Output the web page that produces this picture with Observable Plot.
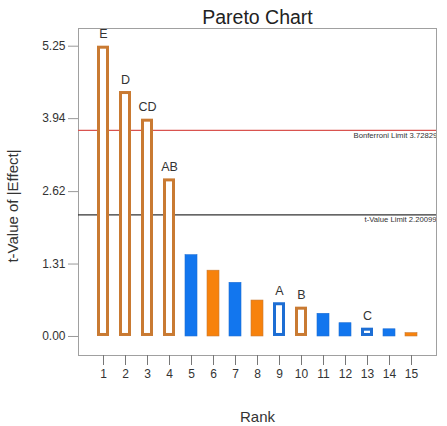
<!DOCTYPE html>
<html>
<head>
<meta charset="utf-8">
<script src="https://cdn.jsdelivr.net/npm/d3@7"></script>
<script src="https://cdn.jsdelivr.net/npm/@observablehq/plot@0.6"></script>
<style>
  html, body { margin: 0; padding: 0; background: #fff; }
  #chart svg { display: block; }
</style>
</head>
<body>
<div id="chart"></div>
<script>
// Pareto chart of standardized effects, ranked by |t|
const ranks = [1, 2, 3, 4, 5, 6, 7, 8, 9, 10, 11, 12, 13, 14, 15];
const terms = ["E", "D", "CD", "AB", "", "", "", "", "A", "B", "", "", "C", "", ""];
const tValues = [5.25, 4.43, 3.93, 2.85, 1.47, 1.19, 0.97, 0.65, 0.61, 0.53, 0.41, 0.24, 0.15, 0.13, 0.06];
// effect sign: orange = positive, blue = negative
const signs = ["+", "+", "+", "+", "-", "+", "-", "+", "-", "+", "-", "-", "-", "-", "+"];
const yTicks = [0.00, 1.31, 2.62, 3.94, 5.25];
const bonferroniLimit = 3.72829;
const tValueLimit = 2.20099;

const rows = ranks.map((r, i) => ({
  rank: r, term: terms[i], t: tValues[i], sign: signs[i], inModel: terms[i] !== ""
}));
const modelRows = rows.filter(d => d.inModel);
const otherRows = rows.filter(d => !d.inModel);

const fillColor = s => s === "+" ? "#f7820c" : "#1276ee";
const edgeColor = s => s === "+" ? "#c97a32" : "#1d6ed4";
const font = "Liberation Sans, Arial, Helvetica, sans-serif";

const chart = Plot.plot({
  width: 447,
  height: 426,
  marginLeft: 78,
  marginRight: 11,
  marginTop: 28,
  marginBottom: 71,
  style: { fontFamily: font, background: "#fff", overflow: "visible" },
  x: {
    type: "band",
    domain: ranks,
    paddingInner: 0.47,
    paddingOuter: 0.64,
    label: null
  },
  y: {
    domain: [-0.344, 5.57],
    label: null
  },
  marks: [
    Plot.frame({ stroke: "#a0a0a0", strokeWidth: 1 }),
    // limit lines
    Plot.ruleY([bonferroniLimit], { stroke: "#d9534f", strokeWidth: 1.2 }),
    Plot.ruleY([tValueLimit], { stroke: "#333", strokeWidth: 1.2 }),
    Plot.text([`Bonferroni Limit ${bonferroniLimit}`], {
      y: [bonferroniLimit], frameAnchor: "right", textAnchor: "start",
      dx: -83, dy: 5, fontSize: 7.7, fill: "#333", clip: true
    }),
    Plot.text([`t-Value Limit ${tValueLimit}`], {
      y: [tValueLimit], frameAnchor: "right", textAnchor: "start",
      dx: -72, dy: 5, fontSize: 7.7, fill: "#333", clip: true
    }),
    // remaining effects: solid bars
    Plot.barY(otherRows, {
      x: "rank", y: "t",
      fill: d => fillColor(d.sign),
      stroke: d => edgeColor(d.sign), strokeWidth: 0.6
    }),
    // model terms: hollow bars
    Plot.barY(modelRows, {
      x: "rank", y: "t", inset: 1.5,
      fill: "#fff",
      stroke: d => edgeColor(d.sign), strokeWidth: 3
    }),
    Plot.text(modelRows, {
      x: "rank", y: "t", text: "term", dy: -12,
      fontSize: 12.5, fill: "#333"
    }),
    // axes
    Plot.axisX({
      ticks: ranks, tickSize: 10, tickPadding: 4, fontSize: 12,
      color: "#333", stroke: "#777", label: null
    }),
    Plot.axisY({
      ticks: yTicks, tickFormat: d => d.toFixed(2), tickSize: 10, tickPadding: 3,
      fontSize: 12, color: "#333", stroke: "#999", label: null
    }),
    // titles
    Plot.text(["Pareto Chart"], {
      frameAnchor: "top", lineAnchor: "middle", dy: -11, fontSize: 19.5, fill: "#222"
    }),
    Plot.text(["Rank"], {
      frameAnchor: "bottom", lineAnchor: "middle", dy: 62, fontSize: 15, fill: "#333"
    }),
    Plot.text(["t-Value of |Effect|"], {
      frameAnchor: "left", textAnchor: "middle", lineAnchor: "middle",
      dx: -65, dy: 14, rotate: -90, fontSize: 15, fill: "#333"
    })
  ]
});

document.getElementById("chart").appendChild(chart);
</script>
</body>
</html>
